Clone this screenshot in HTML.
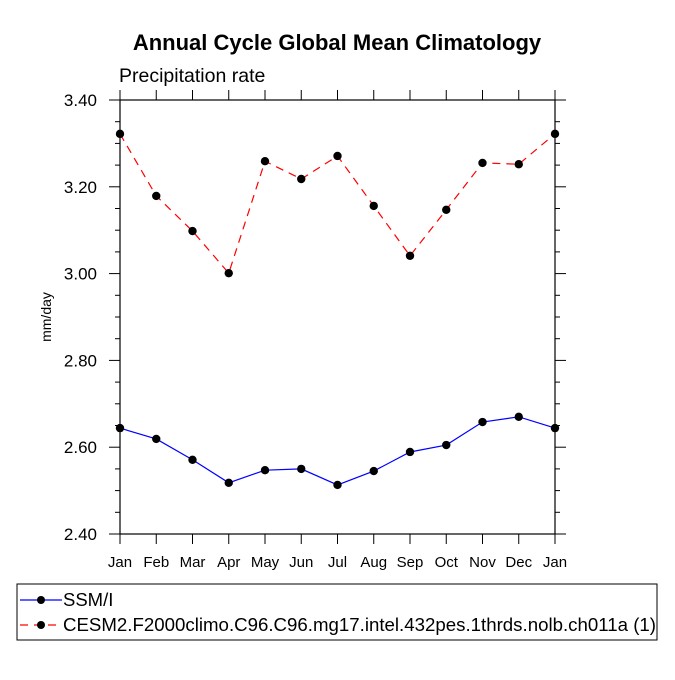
<!DOCTYPE html>
<html><head><meta charset="utf-8"><style>body{margin:0;background:#fff}svg{font-family:"Liberation Sans",Arial,sans-serif}</style></head>
<body>
<svg id="c" width="675" height="675" viewBox="0 0 675 675">
<text x="337" y="50" text-anchor="middle" font-size="22" font-weight="bold">Annual Cycle Global Mean Climatology</text>
<text x="119" y="82" font-size="19.5">Precipitation rate</text>
<text transform="translate(51,317) rotate(-90)" text-anchor="middle" font-size="14">mm/day</text>
<g id="axes"></g><g id="series"></g>
<rect x="17" y="584" width="640" height="56" fill="none" stroke="#000" stroke-width="1"/>
<g><line x1="20" y1="600" x2="62" y2="600" stroke="#00f" stroke-width="1.2"/><circle cx="41" cy="600" r="4"/><text x="63" y="606" font-size="18.5">SSM/I</text></g>
<g><line x1="20" y1="625" x2="62" y2="625" stroke="#f00" stroke-width="1.2" stroke-dasharray="8,6"/><circle cx="41" cy="625" r="4"/><text x="63" y="631" font-size="18.5" textLength="593" lengthAdjust="spacingAndGlyphs">CESM2.F2000climo.C96.C96.mg17.intel.432pes.1thrds.nolb.ch011a (1)</text></g>
</svg>
<script>
const months=["Jan","Feb","Mar","Apr","May","Jun","Jul","Aug","Sep","Oct","Nov","Dec","Jan"];
const ssmi=[2.644,2.619,2.571,2.518,2.547,2.550,2.513,2.545,2.589,2.605,2.658,2.670,2.644];
const cesm=[3.322,3.179,3.098,3.001,3.259,3.218,3.271,3.156,3.041,3.147,3.255,3.252,3.322];
const yTicks=[2.40,2.60,2.80,3.00,3.20,3.40];
const NS="http://www.w3.org/2000/svg";
const L=120,R=555,T=100,B=534,ymin=2.4,ymax=3.4;
const X=i=>L+(R-L)*i/(months.length-1);
const Y=v=>B-(B-T)*(v-ymin)/(ymax-ymin);
function mk(t,a,p){const e=document.createElementNS(NS,t);for(const k in a)e.setAttribute(k,a[k]);p.appendChild(e);return e;}
const ax=document.getElementById('axes');
const fr=mk('rect',{x:L,y:T,width:R-L,height:B-T,fill:'none',stroke:'#000','stroke-width':1.2},ax);


months.forEach((m,i)=>{const x=X(i);
mk('line',{x1:x,y1:B,x2:x,y2:B+10,stroke:'#000'},ax);
mk('line',{x1:x,y1:T,x2:x,y2:T-10,stroke:'#000'},ax);
const t=mk('text',{x:x,y:B+33,'text-anchor':'middle','font-size':15},ax);t.textContent=m;

});
for(let v=ymin;v<=ymax+1e-9;v+=0.05){const y=Y(v);const maj=Math.abs(Math.round(v*5)-v*5)<1e-6;const len=maj?11:5;
mk('line',{x1:L,y1:y,x2:L-len,y2:y,stroke:'#000'},ax);
mk('line',{x1:R,y1:y,x2:R+len,y2:y,stroke:'#000'},ax);}
yTicks.forEach(v=>{const t=mk('text',{x:L-23,y:Y(v)+6,'text-anchor':'end','font-size':17},ax);t.textContent=v.toFixed(2);

});
const sg=document.getElementById('series');
function draw(vals,col,dash,name){const g=mk('g',{},sg);


mk('polyline',{points:vals.map((v,i)=>X(i)+','+Y(v)).join(' '),fill:'none',stroke:col,'stroke-width':1.2,'stroke-dasharray':dash},g);
vals.forEach((v,i)=>{const c=mk('circle',{cx:X(i),cy:Y(v),r:4.2,fill:'#000'},g);

});}
draw(ssmi,'#00f','none','series-ssmi');
draw(cesm,'#f00','8,6','series-cesm2');
</script>
</body></html>
